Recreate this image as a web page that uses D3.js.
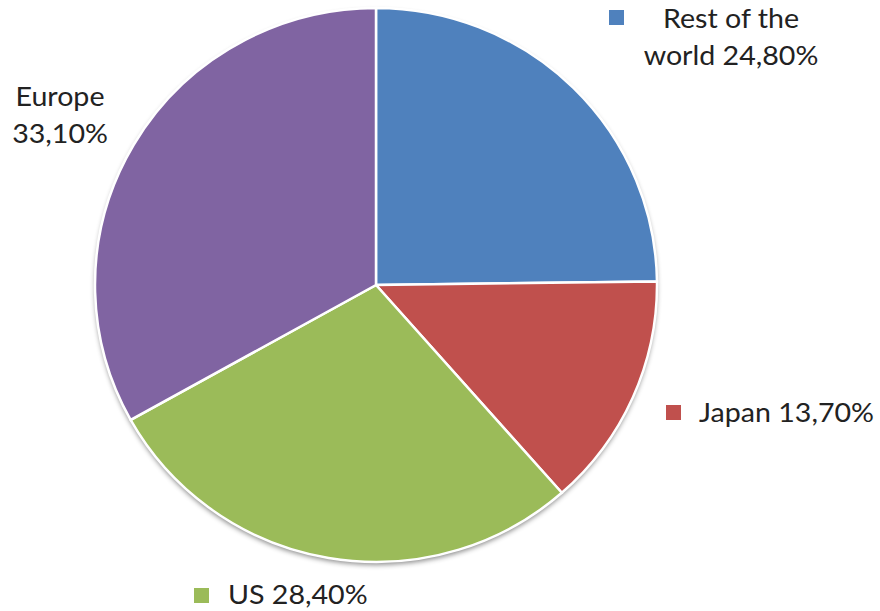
<!DOCTYPE html>
<html>
<head>
<meta charset="utf-8">
<script src="https://cdn.jsdelivr.net/npm/d3@7"></script>
<style>
  html, body { margin: 0; padding: 0; background: #ffffff; }
  svg { display: block; }
  text { font-family: Lato, "Open Sans", sans-serif; fill: #222; }
</style>
</head>
<body>
<svg id="chart" width="880" height="611"></svg>
<script>
const categories = ["Rest of the world", "Japan", "US", "Europe"];
const values = [24.8, 13.7, 28.4, 33.1];
const valueLabels = ["24,80%", "13,70%", "28,40%", "33,10%"];
const colors = ["#4F81BD", "#C0504D", "#9BBB59", "#8064A2"];

const svg = d3.select("#chart");
const cx = 376, cy = 285, rx = 281, ry = 277;

const defs = svg.append("defs");
const f = defs.append("filter").attr("id", "shadow")
  .attr("x", "-10%").attr("y", "-10%").attr("width", "120%").attr("height", "125%");
f.append("feDropShadow").attr("dx", 0).attr("dy", 3).attr("stdDeviation", 2.5)
  .attr("flood-color", "#000").attr("flood-opacity", 0.45);

const data = categories.map((c, i) => ({ name: c, value: values[i], label: valueLabels[i], color: colors[i] }));
const pie = d3.pie().value(d => d.value).sort(null);
const arc = d3.arc().innerRadius(0).outerRadius(rx);

const g = svg.append("g")
  .attr("transform", `translate(${cx},${cy}) scale(1,${ry / rx})`);

g.append("g").attr("filter", "url(#shadow)")
  .selectAll("path").data(pie(data)).join("path")
  .attr("d", arc)
  .attr("fill", d => d.data.color);

g.append("g")
  .selectAll("path").data(pie(data)).join("path")
  .attr("d", arc)
  .attr("fill", d => d.data.color)
  .attr("stroke", "#fff")
  .attr("stroke-width", 2.5)
  .attr("vector-effect", "non-scaling-stroke");

const fs = 26, sx = 1.1, lineH = 37;
const labelLayout = [
  { lines: ["Rest of the", "world " + valueLabels[0]], x: 731, y: 28, anchor: "middle", key: [609, 10] },
  { lines: ["Japan " + valueLabels[1]], x: 699, y: 422, anchor: "start", key: [666, 405] },
  { lines: ["US " + valueLabels[2]], x: 228, y: 604, anchor: "start", key: [194, 588] },
  { lines: ["Europe", valueLabels[3]], x: 60, y: 106, anchor: "middle", key: null }
];

const lg = svg.append("g");
labelLayout.forEach((L, i) => {
  if (L.key) {
    lg.append("rect").attr("x", L.key[0]).attr("y", L.key[1])
      .attr("width", 15).attr("height", 15).attr("fill", colors[i]);
  }
  const t = lg.append("text")
    .attr("transform", `translate(${L.x},${L.y}) scale(${sx},1)`)
    .attr("text-anchor", L.anchor).attr("font-size", fs);
  L.lines.forEach((ln, j) => {
    t.append("tspan").attr("x", 0).attr("dy", j === 0 ? 0 : lineH).text(ln);
  });
});
</script>
</body>
</html>
